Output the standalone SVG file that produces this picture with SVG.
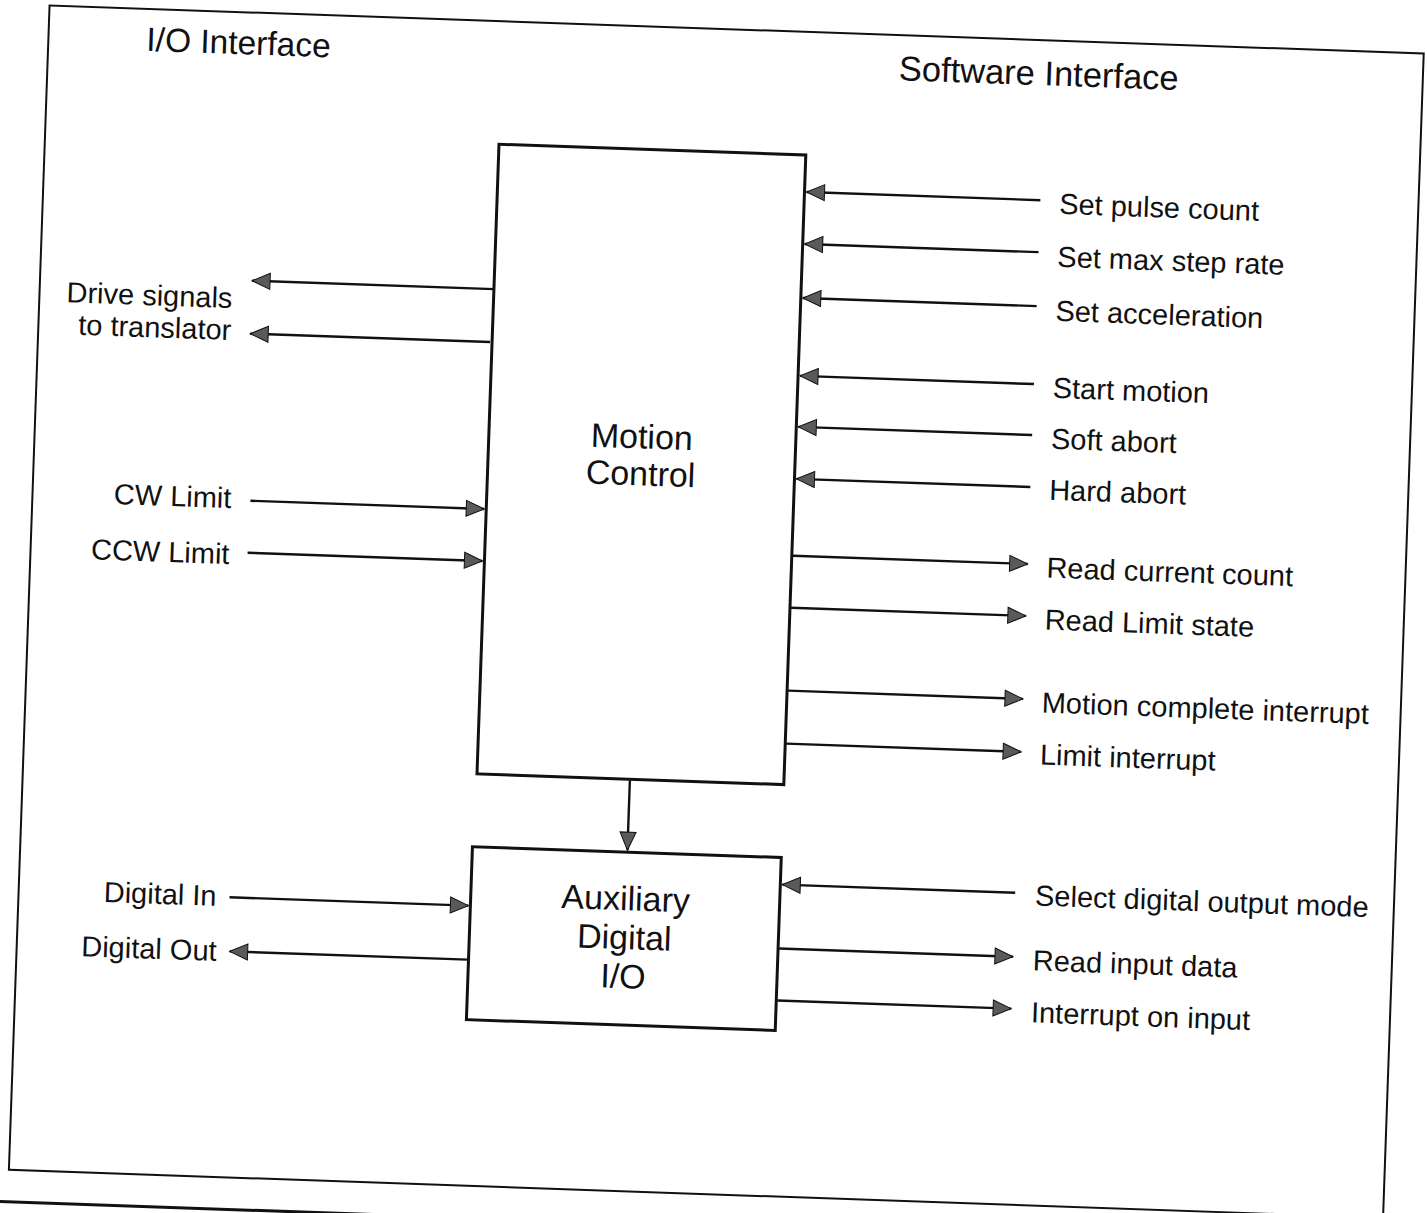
<svg xmlns="http://www.w3.org/2000/svg" width="1427" height="1213" viewBox="0 0 1427 1213">
<defs>
<marker id="ah" markerUnits="userSpaceOnUse" markerWidth="20" markerHeight="18" refX="18" refY="8" orient="auto" overflow="visible">
<path d="M0,0 L18,8 L0,16 Z" fill="#5a5a5a" stroke="#111" stroke-width="1"/>
</marker>
</defs>
<style>
text{font-family:"Liberation Sans",Arial,sans-serif;fill:#111}
.lbl{font-size:29px}
.end{text-anchor:end}
.mid{text-anchor:middle}
.box{fill:#fff;stroke:#111;stroke-width:3}
.c{stroke:#111;stroke-width:2.4;fill:none;marker-end:url(#ah)}
.frame{fill:none;stroke:#111;stroke-width:2}
</style>
<rect x="0" y="0" width="1427" height="1213" fill="#fff"/>
<g transform="rotate(2 713 606)">
<rect class="frame" x="29" y="29" width="1375" height="1165"/>
<line x1="-60" y1="1226" x2="700" y2="1226" stroke="#111" stroke-width="3"/>
<text x="127" y="71" style="font-size:33.5px">I/O Interface</text>
<text x="880" y="74" style="font-size:34.5px">Software Interface</text>

<g id="motion-control">
<rect class="box" x="483" y="152" width="307" height="630"/>
<text class="mid" x="636" y="451" style="font-size:34px">Motion</text>
<text class="mid" x="636" y="488" style="font-size:34px">Control</text>
</g>

<g id="aux-digital-io">
<rect class="box" x="481" y="855" width="309" height="173"/>
<text class="mid" x="636" y="913" style="font-size:34px">Auxiliary</text>
<text class="mid" x="636" y="952" style="font-size:34px">Digital</text>
<text class="mid" x="636" y="991" style="font-size:34px">I/O</text>
</g>

<g id="connectors">
<line class="c" x1="483" y1="297" x2="241" y2="297"/>
<line class="c" x1="481" y1="350" x2="241" y2="350"/>
<line class="c" x1="247" y1="517" x2="481" y2="517"/>
<line class="c" x1="246" y1="569" x2="481" y2="569"/>
<line class="c" x1="240" y1="914" x2="479" y2="914"/>
<line class="c" x1="480" y1="968" x2="242" y2="968"/>
<line class="c" x1="636" y1="783" x2="636" y2="853"/>
<line class="c" x1="1026" y1="189" x2="792" y2="189"/>
<line class="c" x1="1026" y1="241" x2="792" y2="241"/>
<line class="c" x1="1026" y1="295" x2="792" y2="295"/>
<line class="c" x1="1026" y1="373" x2="792" y2="373"/>
<line class="c" x1="1026" y1="424" x2="792" y2="424"/>
<line class="c" x1="1026" y1="476" x2="792" y2="476"/>
<line class="c" x1="791" y1="553" x2="1026" y2="553"/>
<line class="c" x1="791" y1="605" x2="1026" y2="605"/>
<line class="c" x1="791" y1="688" x2="1026" y2="688"/>
<line class="c" x1="791" y1="741" x2="1026" y2="741"/>
<line class="c" x1="1025" y1="882" x2="792" y2="882"/>
<line class="c" x1="791" y1="946" x2="1025" y2="946"/>
<line class="c" x1="791" y1="998" x2="1025" y2="998"/>
</g>

<g id="io-labels">
<text class="lbl end" x="222" y="325">Drive signals</text>
<text class="lbl end" x="222" y="357">to translator</text>
<text class="lbl end" x="228" y="525">CW Limit</text>
<text class="lbl end" x="228" y="581">CCW Limit</text>
<text class="lbl end" x="227" y="923">Digital In</text>
<text class="lbl end" x="229" y="978">Digital Out</text>
</g>

<g id="software-labels">
<text class="lbl" x="1045" y="202">Set pulse count</text>
<text class="lbl" x="1045" y="255">Set max step rate</text>
<text class="lbl" x="1045" y="309">Set acceleration</text>
<text class="lbl" x="1045" y="386">Start motion</text>
<text class="lbl" x="1045" y="437">Soft abort</text>
<text class="lbl" x="1045" y="488">Hard abort</text>
<text class="lbl" x="1045" y="566">Read current count</text>
<text class="lbl" x="1045" y="618">Read Limit state</text>
<text class="lbl" x="1045" y="701">Motion complete interrupt</text>
<text class="lbl" x="1045" y="753">Limit interrupt</text>
<text class="lbl" x="1045" y="894">Select digital output mode</text>
<text class="lbl" x="1045" y="959">Read input data</text>
<text class="lbl" x="1045" y="1011">Interrupt on input</text>
</g>
</g>
</svg>
